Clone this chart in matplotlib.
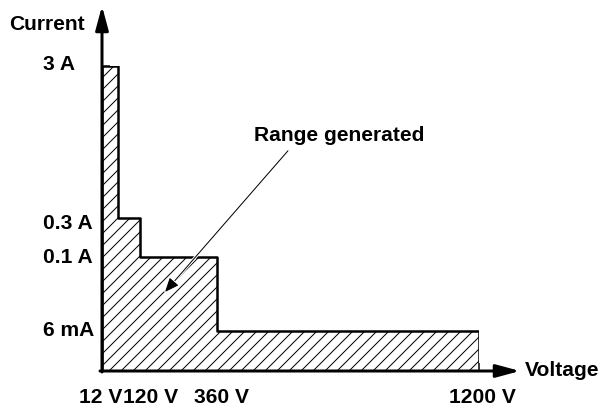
import numpy as np
import matplotlib
matplotlib.use('Agg')
import matplotlib.pyplot as plt
from matplotlib.transforms import ScaledTranslation
import matplotlib.patheffects as pe

plt.rcParams['font.family'] = ['Liberation Sans', 'DejaVu Sans']
plt.rcParams['font.weight'] = 'bold'
plt.rcParams['font.size'] = 21

# Rango de salida (esquema, no a escala)
voltaje = [12, 120, 360, 1200]
corriente = [3, 0.3, 0.1, 0.006]
etiquetas_v = ['12 V', '120 V', '360 V', '1200 V']
etiquetas_i = ['3 A', '0.3 A', '0.1 A', '6 mA']

# escala esquemática por tramos (en pixeles)
v_pts = [0] + voltaje
v_px = [0, 16, 38, 115, 377]
i_pts = [0] + corriente[::-1]
i_px = [0, 40, 114.5, 153.5, 305]


def fwd_v(x):
    return np.interp(x, v_pts, v_px)


def inv_v(x):
    return np.interp(x, v_px, v_pts)


def fwd_i(y):
    return np.interp(y, i_pts, i_px)


def inv_i(y):
    return np.interp(y, i_px, i_pts)


W, H = 599, 407
fig = plt.figure(figsize=(W / 72, H / 72), dpi=72)
ax = fig.add_axes([102 / W, (H - 371) / H, 377 / W, 305 / H])
ax.set_xscale('function', functions=(fwd_v, inv_v))
ax.set_yscale('function', functions=(fwd_i, inv_i))
ax.set_xlim(0, 1200)
ax.set_ylim(0, 3)

x = [0] + voltaje
y = corriente + [corriente[-1]]
ax.fill_between(x, y, 0, step='post', facecolor='white', edgecolor='black',
                hatch='//', linewidth=2.5, zorder=2)

for s in ax.spines.values():
    s.set_visible(False)

ax.set_xticks(voltaje)
ax.set_xticklabels(etiquetas_v)
ax.set_yticks(corriente)
ax.set_yticklabels(etiquetas_i, ha='left')
ax.tick_params(axis='x', direction='in', length=8, width=1.5, pad=17)
ax.tick_params(axis='y', direction='in', length=8, width=1.5, pad=59)
ax.minorticks_off()

# desplazamientos manuales de las etiquetas
dx = [-17, 11, 5, 3]
for lab, d in zip(ax.get_xticklabels(), dx):
    lab.set_transform(lab.get_transform() + ScaledTranslation(d / 72, 0, fig.dpi_scale_trans))
dy = [4, -4, 1, 2]
for lab, d in zip(ax.get_yticklabels(), dy):
    lab.set_transform(lab.get_transform() + ScaledTranslation(0, d / 72, fig.dpi_scale_trans))

# ejes con flecha
flecha = dict(arrowstyle='-|>,head_length=1.0,head_width=0.27', mutation_scale=20,
              lw=3, color='black', shrinkA=0, shrinkB=0)
ax.annotate('', xy=(1 + 41 / 377, 0), xytext=(-2 / 377, 0), xycoords='axes fraction',
            arrowprops=flecha, annotation_clip=False, zorder=5)
ax.annotate('', xy=(0, 1 + 60 / 305), xytext=(0, -1 / 305), xycoords='axes fraction',
            arrowprops=flecha, annotation_clip=False, zorder=5)

fig.text(9 / W, 1 - 29.5 / H, 'Current', ha='left', va='baseline')
fig.text(525 / W, 1 - 376.5 / H, 'Voltage', ha='left', va='baseline')

ax.annotate('Range generated', xy=(63 / 377, 79 / 305), xycoords='axes fraction',
            xytext=(237 / 377, 230 / 305), textcoords='axes fraction',
            ha='center', va='baseline', zorder=6,
            arrowprops=dict(arrowstyle='-|>,head_length=0.6,head_width=0.25',
                            mutation_scale=20, lw=1, color='black', relpos=(0.23, 0),
                            shrinkA=5, shrinkB=0,
                            path_effects=[pe.withStroke(linewidth=3, foreground='white')]))

fig.savefig('out.png', dpi=72)
